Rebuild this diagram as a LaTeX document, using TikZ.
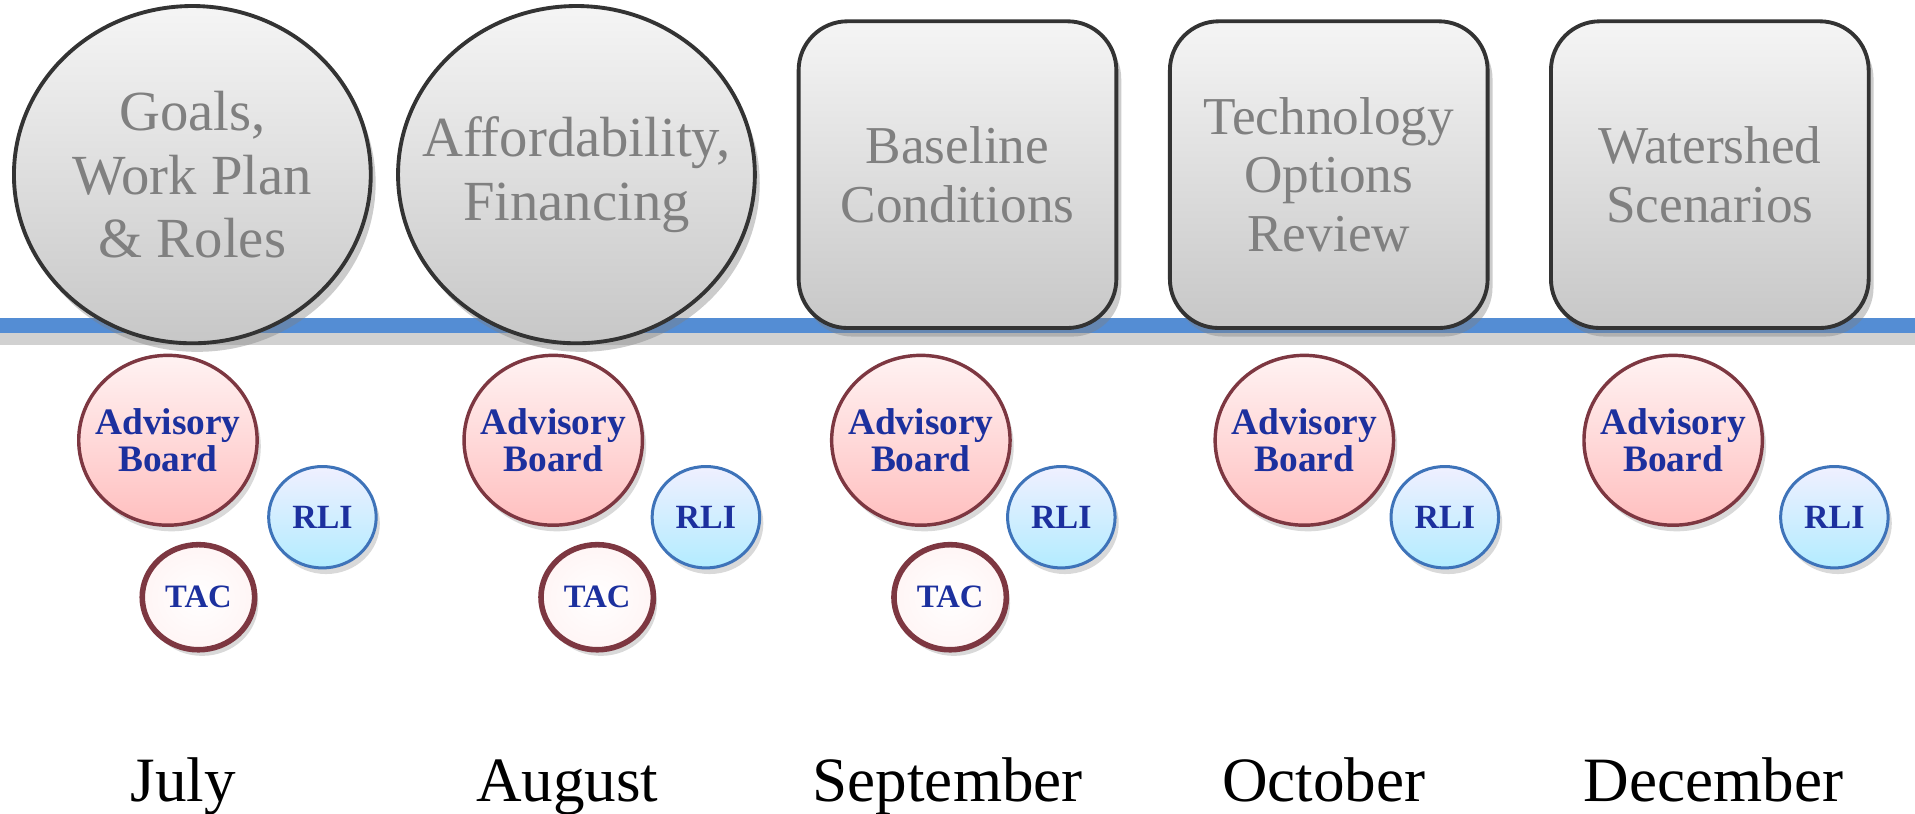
\documentclass[tikz,border=0pt]{standalone}
\usepackage{fontspec}
\setmainfont{Liberation Serif}
\usepackage{tikz}
\usetikzlibrary{positioning,shapes,shadows}
\definecolor{lineblue}{RGB}{84,141,212}
\definecolor{whoblue}{RGB}{28,48,158}
\definecolor{boardrim}{RGB}{125,55,65}
\definecolor{rlirim}{RGB}{62,115,185}

\begin{document}
\begin{tikzpicture}[x=0.01cm,y=-0.01cm,
  topic/.style={draw=black!80,line width=0.9pt,top color=black!4,bottom color=black!22,
    text=black!50,align=center,inner sep=0pt,
    drop shadow={opacity=0.4,shadow xshift=0.4mm,shadow yshift=-0.7mm}},
  goal/.style={topic,ellipse,inner xsep=-0.6cm,minimum width=2.92cm,minimum height=2.76cm,
    font=\fontsize{13.2}{14.8}\selectfont},
  task/.style={topic,rectangle,rounded corners=0.4cm,minimum width=2.6cm,minimum height=2.51cm,
    font=\fontsize{12.4}{13.7}\selectfont},
  who/.style={ellipse,inner sep=0pt,text=whoblue,align=center,
    drop shadow={opacity=0.3,shadow xshift=0.3mm,shadow yshift=-0.5mm}},
  board/.style={who,inner xsep=-0.3cm,draw=boardrim,line width=0.8pt,top color=red!5,bottom color=red!25,
    minimum width=1.46cm,minimum height=1.39cm,font=\bfseries\fontsize{8.7}{8.6}\selectfont},
  rli/.style={who,draw=rlirim,line width=0.7pt,top color=blue!6,bottom color=blue!25!cyan!30,
    minimum width=0.88cm,minimum height=0.83cm,font=\bfseries\fontsize{7.9}{8}\selectfont},
  tac/.style={who,draw=boardrim,line width=1.3pt,inner color=white,outer color=red!4,
    minimum width=0.92cm,minimum height=0.86cm,font=\bfseries\fontsize{7.6}{8}\selectfont},
  month/.style={anchor=base,font=\fontsize{14.7}{16}\selectfont}]
\useasboundingbox (0,0) rectangle (1568,666);
\coordinate (w) at (0,266.5);
\coordinate (e) at (1568,266.5);
\draw[black!30,line width=4pt,opacity=0.6,transform canvas={yshift=-0.9mm}] (w) -- (e);
\draw[lineblue,line width=3.7pt] (w) -- (e);
%
\node[goal] (1) at (157.5,143) {Goals,\\Work Plan\\\& Roles};
\node[goal] (2) at (472,143) {Affordability,\\Financing};
\node[task] (3) at (784,143) {Baseline\\Conditions};
\node[task] (4) at (1088,143) {Technology\\Options\\Review};
\node[task] (5) at (1400,143) {Watershed\\Scenarios};
%
\node[board] (a1) at (137.5,360.5) {Advisory\\Board};
\node[rli] (r1) at (264,423.5) {RLI};
\node[tac] (t1) at (162.5,489) {TAC};
\node[board] (a2) at (453,360.5) {Advisory\\Board};
\node[rli] (r2) at (578,423.5) {RLI};
\node[tac] (t2) at (489,489) {TAC};
\node[board] (a3) at (754,360.5) {Advisory\\Board};
\node[rli] (r3) at (869,423.5) {RLI};
\node[tac] (t3) at (778,489) {TAC};
\node[board] (a4) at (1068,360.5) {Advisory\\Board};
\node[rli] (r4) at (1183,423.5) {RLI};
\node[board] (a5) at (1370,360.5) {Advisory\\Board};
\node[rli] (r5) at (1502,423.5) {RLI};
%
\node[month] (m1) at (150,656) {July};
\node[month] (m2) at (464.5,656) {August};
\node[month] (m3) at (776,656) {September};
\node[month] (m4) at (1084,656) {October};
\node[month] (m5) at (1403,656) {December};
\end{tikzpicture}
\end{document}
